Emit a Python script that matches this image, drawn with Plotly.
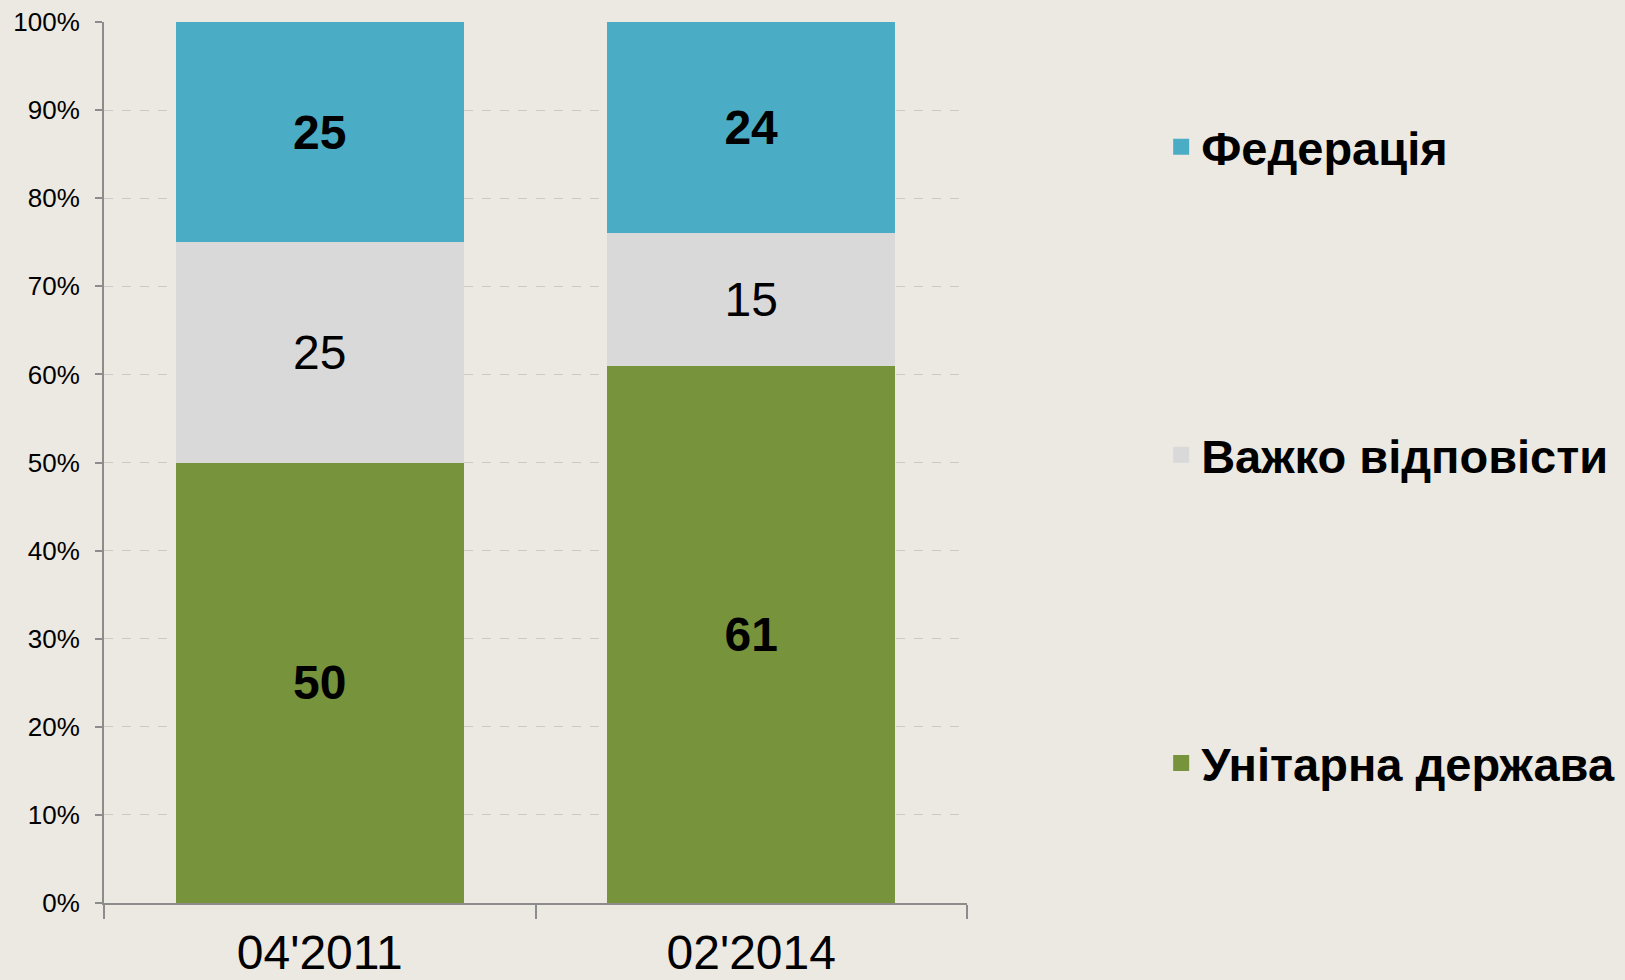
import plotly.graph_objects as go

categories = ["04'2011", "02'2014"]
unitary = [50, 61]
hard_to_say = [25, 15]
federation = [25, 24]
series_names = ["Унітарна держава", "Важко відповісти", "Федерація"]
colors = ["#77933C", "#D9D9D9", "#4BACC6"]
legend_ranks = [3, 2, 1]
y_ticks = list(range(0, 101, 10))
y_tick_labels = [f"{v}%" for v in y_ticks]

FONT = "Liberation Sans, Arial, sans-serif"

fig = go.Figure()
for name, vals, col, bold in zip(series_names, [unitary, hard_to_say, federation], colors, [True, False, True]):
    fig.add_trace(go.Bar(
        x=categories, y=vals, name=name, legendgroup=name, showlegend=False,
        marker=dict(color=col, line=dict(width=0)),
        text=[str(v) for v in vals],
        texttemplate="<b>%{text}</b>" if bold else "%{text}",
        textposition="inside", insidetextanchor="middle",
        textfont=dict(family=FONT, size=48, color="black"),
        textangle=0,
    ))
# legend entries (larger square swatches)
for name, col, rank in zip(series_names, colors, legend_ranks):
    fig.add_trace(go.Scatter(
        x=[None], y=[None], mode="markers", name=name, legendgroup=name,
        legendrank=rank,
        marker=dict(symbol="square", size=16, color=col),
        hoverinfo="skip",
    ))

fig.update_layout(
    barmode="stack", bargap=0.333,
    width=1625, height=980,
    margin=dict(l=104, r=658, t=22, b=77, autoexpand=False),
    paper_bgcolor="#ECE8E2", plot_bgcolor="rgba(0,0,0,0)",
    font=dict(family=FONT, color="black"),
    uniformtext=dict(minsize=10, mode="show"),
    legend=dict(
        x=1.225, y=0.9005, xanchor="left", yanchor="top",
        traceorder="grouped", tracegroupgap=244,
        itemsizing="trace",
        font=dict(family=FONT, size=47, color="black", weight="bold"),
        bgcolor="rgba(0,0,0,0)",
    ),
)
fig.update_yaxes(
    range=[0, 100], tickvals=y_ticks, ticktext=y_tick_labels,
    tickfont=dict(family=FONT, size=26, color="black"),
    showgrid=True, gridcolor="#CDCAC5", griddash="dash", gridwidth=1,
    showline=True, linecolor="#8C8C8C", linewidth=2,
    ticks="outside", ticklen=7, tickcolor="#8C8C8C", tickwidth=2,
    zeroline=False, ticklabelstandoff=10, automargin=False,
)
fig.update_xaxes(
    tickfont=dict(family=FONT, size=48, color="black"),
    showline=True, linecolor="#8C8C8C", linewidth=2,
    ticks="outside", ticklen=14, tickcolor="#8C8C8C", tickwidth=2,
    tickson="boundaries", showgrid=False, ticklabelstandoff=6,
    automargin=False,
)

fig.write_html(
    "out.html",
    config={"displayModeBar": False},
    post_script="document.body.style.margin='0';document.body.style.overflow='hidden';",
)
